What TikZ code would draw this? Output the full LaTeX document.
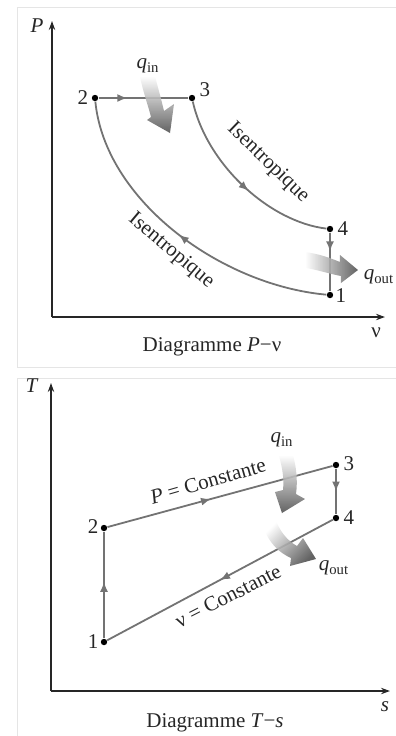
\documentclass[tikz,border=0pt]{standalone}
\usepackage{fontspec}
\setmainfont{Liberation Serif}
\usetikzlibrary{arrows.meta,decorations.markings}

\begin{document}
\begin{tikzpicture}[x=0.5pt, y=-0.5pt,
    every node/.style={font=\fontsize{10.5}{12}\selectfont, text=black!85},
    axis/.style={-{Stealth[length=4.5pt,width=3.2pt]}, line width=1.1pt, black!85},
    cycleline/.style={line width=0.9pt, black!55},
    state/.style={circle, fill=black, inner sep=0pt, minimum size=3.2pt},
    midarrow/.style={postaction={decorate}, decoration={markings,
        mark=at position #1 with {\arrow{Latex[length=5pt,width=4pt]}}}},
    heat/.style={opacity=0.88},
    frame/.style={black!10, line width=0.4pt}]
    \useasboundingbox (0,0) rectangle (396,736);
    % faint panel frames
    \draw[frame] (396,7) -- (17,7) -- (17,367) -- (396,367);
    \draw[frame] (396,378) -- (17,378) -- (17,736);

    % ---- P-v diagram ----
    \coordinate (aO) at (52,317);
    \coordinate (aPtop) at (52,21);
    \coordinate (aVend) at (385,317);
    \draw[axis] (aO) -- (aPtop);
    \draw[axis] (aO) -- (aVend);
    \node (aP) at (37,26) {\textit{P}};
    \node (av) at (376,333) {ν};
    \node (acap) at (212,347) {Diagramme \textit{P}−ν};

    \node[state] (a2) at (95,98) {};
    \node[state] (a3) at (192,98) {};
    \node[state] (a4) at (330,229) {};
    \node[state] (a1) at (330,295) {};
    \draw[cycleline, midarrow=0.32] (a2) -- (a3);
    \draw[cycleline, midarrow=0.55] (a3) .. controls (207,165) and (270,222) .. (a4);
    \draw[cycleline, midarrow=0.32] (a4) -- (a1);
    \draw[cycleline, midarrow=0.5] (a1) .. controls (220,285) and (105,200) .. (a2);
    \node (la2) at (83,98) {2};
    \node (la3) at (205,90) {3};
    \node (la4) at (343,229) {4};
    \node (la1) at (341,296) {1};
    \node[rotate=-44] (aiso1) at (268,163) {Isentropique};
    \node[rotate=-40] (aiso2) at (171,251) {Isentropique};

    \shade[heat, top color=white, bottom color=black!70] (140,77) .. controls (144,95) and (148,105) .. (151,117)
        -- (147,120) -- (170,133) -- (174,104) -- (164,111) .. controls (161,98) and (158,88) .. (155,76) -- cycle;
    \node (aqin) at (148,66) {\textit{q}\textsubscript{in}};
    \shade[heat, left color=white, right color=black!70] (305,252) .. controls (320,254) and (330,258) .. (340,262)
        -- (340,255) -- (358,270) -- (341,283) -- (341,276) .. controls (330,274) and (318,270) .. (306,268) -- cycle;
    \node (aqout) at (379,277) {\textit{q}\textsubscript{out}};

    % ---- T-s diagram ----
    \coordinate (bO) at (51,691);
    \coordinate (bTtop) at (51,383);
    \coordinate (bSend) at (390,691);
    \draw[axis] (bO) -- (bTtop);
    \draw[axis] (bO) -- (bSend);
    \node (bT) at (32,386) {\textit{T}};
    \node (bs) at (385,707) {\textit{s}};
    \node (bcap) at (215,723) {Diagramme \textit{T}−\textit{s}};

    \node[state] (b1) at (104,642) {};
    \node[state] (b2) at (104,528) {};
    \node[state] (b3) at (336,465) {};
    \node[state] (b4) at (336,518) {};
    \draw[cycleline, midarrow=0.53] (b1) -- (b2);
    \draw[cycleline, midarrow=0.46] (b2) -- (b3);
    \draw[cycleline, midarrow=0.5] (b3) -- (b4);
    \draw[cycleline, midarrow=0.5] (b4) -- (b1);
    \node (lb1) at (93,642) {1};
    \node (lb2) at (93,527) {2};
    \node (lb3) at (349,464) {3};
    \node (lb4) at (349,518) {4};
    \node[rotate=16] (bpc) at (208,481) {\textit{P} = Constante};
    \node[rotate=27] (bvc) at (228,596) {ν = Constante};

    \shade[heat, top color=white, bottom color=black!70] (279,456) .. controls (283,470) and (284,480) .. (283,490)
        -- (275,492) -- (282,513) -- (305,499) -- (296,494) .. controls (298,480) and (296,466) .. (293,455) -- cycle;
    \node (bqin) at (282,440) {\textit{q}\textsubscript{in}};
    \shade[heat, top color=white, bottom color=black!70, shading angle=45] (262,525) .. controls (270,545) and (280,553) .. (291,558)
        -- (290,566) -- (316,559) -- (303,538) -- (297,546) .. controls (288,541) and (281,533) .. (276,521) -- cycle;
    \node (bqout) at (334,568) {\textit{q}\textsubscript{out}};
\end{tikzpicture}
\end{document}
